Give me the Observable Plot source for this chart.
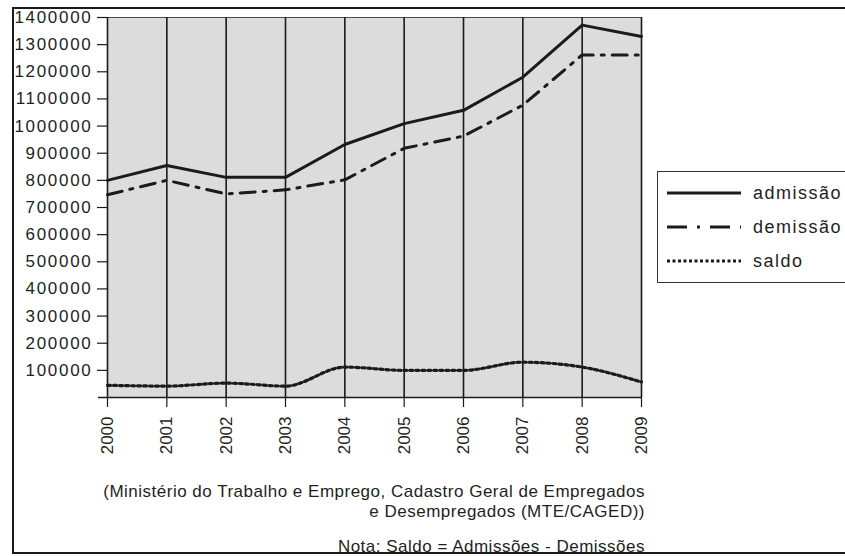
<!DOCTYPE html>
<html>
<head>
<meta charset="utf-8">
<script src="https://cdn.jsdelivr.net/npm/d3@7"></script>
<script src="https://cdn.jsdelivr.net/npm/@observablehq/plot@0.6"></script>
<style>
  html, body { margin: 0; padding: 0; background: #fff; overflow: hidden; }
  #wrap { position: relative; width: 845px; height: 556px; overflow: hidden; background: #fff;
          font-family: "Liberation Sans", Arial, sans-serif; color: #231f20; }
  #chart { position: absolute; left: 0; top: 0; }
  #frame { position: absolute; left: 12px; top: 7px; width: 900px; height: 543px; border: 2px solid #1a1a1a; pointer-events: none; }
  #legend { position: absolute; left: 657px; top: 171px; width: 200px; height: 110px; border: 1.5px solid #333; background: #fff; }
  #legend svg { position: absolute; left: 0; top: 0; }
  .cap { position: absolute; right: 200px; font-size: 17px; line-height: 20px; letter-spacing: 0.5px; white-space: nowrap; text-align: right; }
</style>
</head>
<body>
<div id="wrap">
  <div id="chart"></div>
  <div id="legend"></div>
  <div class="cap" style="top:482px">(Ministério do Trabalho e Emprego, Cadastro Geral de Empregados</div>
  <div class="cap" style="top:502px">e Desempregados (MTE/CAGED))</div>
  <div class="cap" style="top:537px">Nota: Saldo = Admissões - Demissões</div>
  <div id="frame"></div>
</div>
<script>
const years = [2000, 2001, 2002, 2003, 2004, 2005, 2006, 2007, 2008, 2009];
const admissao = [800000, 855000, 811000, 811000, 932000, 1009000, 1058000, 1180000, 1372000, 1330000];
const demissao = [747000, 800000, 750000, 765000, 802000, 918000, 963000, 1077000, 1262000, 1262000];
const saldo = [45000, 42000, 53000, 42000, 112000, 100000, 100000, 130000, 112000, 57000];
const yTicks = [100000, 200000, 300000, 400000, 500000, 600000, 700000, 800000, 900000, 1000000, 1100000, 1200000, 1300000, 1400000];
const seriesNames = ["admissão", "demissão", "saldo"];

const ink = "#1c1a1a";
const styles = {
  "admissão": {strokeWidth: 3, strokeDasharray: null},
  "demissão": {strokeWidth: 3, strokeDasharray: "20,10,3,10"},
  "saldo": {strokeWidth: 3, strokeDasharray: "3,2.5"}
};

const rowsA = years.map((year, i) => ({year, value: admissao[i]}));
const rowsD = years.map((year, i) => ({year, value: demissao[i]}));
const rowsS = years.map((year, i) => ({year, value: saldo[i]}));

const chart = Plot.plot({
  width: 845,
  height: 470,
  marginLeft: 107,
  marginRight: 204,
  marginTop: 17,
  marginBottom: 73,
  style: {fontFamily: '"Liberation Sans", Arial, sans-serif', fontSize: "17px", color: "#231f20", background: "transparent"},
  x: {domain: [2000, 2009], label: null},
  y: {domain: [0, 1400000], label: null},
  marks: [
    Plot.frame({fill: "#dcdcdc", stroke: "#4a4a4a", strokeWidth: 1}),
    Plot.ruleX(years, {stroke: ink, strokeWidth: 1.6}),
    Plot.ruleY([0], {stroke: ink, strokeWidth: 1.6, insetLeft: -9}),
    Plot.line(rowsS, {x: "year", y: "value", stroke: ink, strokeWidth: 3.2, strokeDasharray: "3,3", curve: "monotone-x"}),
    Plot.line(rowsD, {x: "year", y: "value", stroke: ink, strokeWidth: 3, strokeDasharray: "15,8,3,8"}),
    Plot.line(rowsA, {x: "year", y: "value", stroke: ink, strokeWidth: 3}),
    Plot.axisY({ticks: yTicks, tickFormat: d3.format("d"), tickSize: 10, tickPadding: 5, fontSize: 17, stroke: ink, strokeWidth: 1.2, label: null}),
    Plot.axisX({ticks: years, tickFormat: d3.format("d"), tickSize: 10, tickPadding: 9, tickRotate: -90, fontSize: 17, stroke: ink, strokeWidth: 1.2, label: null})
  ]
});
document.getElementById("chart").appendChild(chart);
chart.querySelectorAll('g[aria-label="y-axis tick label"] text').forEach(t => t.setAttribute("letter-spacing", "1.7"));

// legend
const legend = document.getElementById("legend");
const ns = "http://www.w3.org/2000/svg";
const lsvg = document.createElementNS(ns, "svg");
lsvg.setAttribute("width", 200);
lsvg.setAttribute("height", 112);
seriesNames.forEach((name, i) => {
  const y = 21 + i * 34;
  const ln = document.createElementNS(ns, "line");
  ln.setAttribute("x1", 9); ln.setAttribute("x2", 83);
  ln.setAttribute("y1", y); ln.setAttribute("y2", y);
  ln.setAttribute("stroke", ink);
  ln.setAttribute("stroke-width", styles[name].strokeWidth);
  if (styles[name].strokeDasharray) ln.setAttribute("stroke-dasharray", styles[name].strokeDasharray);
  lsvg.appendChild(ln);
  const tx = document.createElementNS(ns, "text");
  tx.setAttribute("x", 95); tx.setAttribute("y", y + 6);
  tx.setAttribute("font-size", 18);
  tx.setAttribute("letter-spacing", "1.5");
  tx.setAttribute("fill", "#231f20");
  tx.setAttribute("font-family", '"Liberation Sans", Arial, sans-serif');
  tx.textContent = name;
  lsvg.appendChild(tx);
});
legend.appendChild(lsvg);
</script>
</body>
</html>
